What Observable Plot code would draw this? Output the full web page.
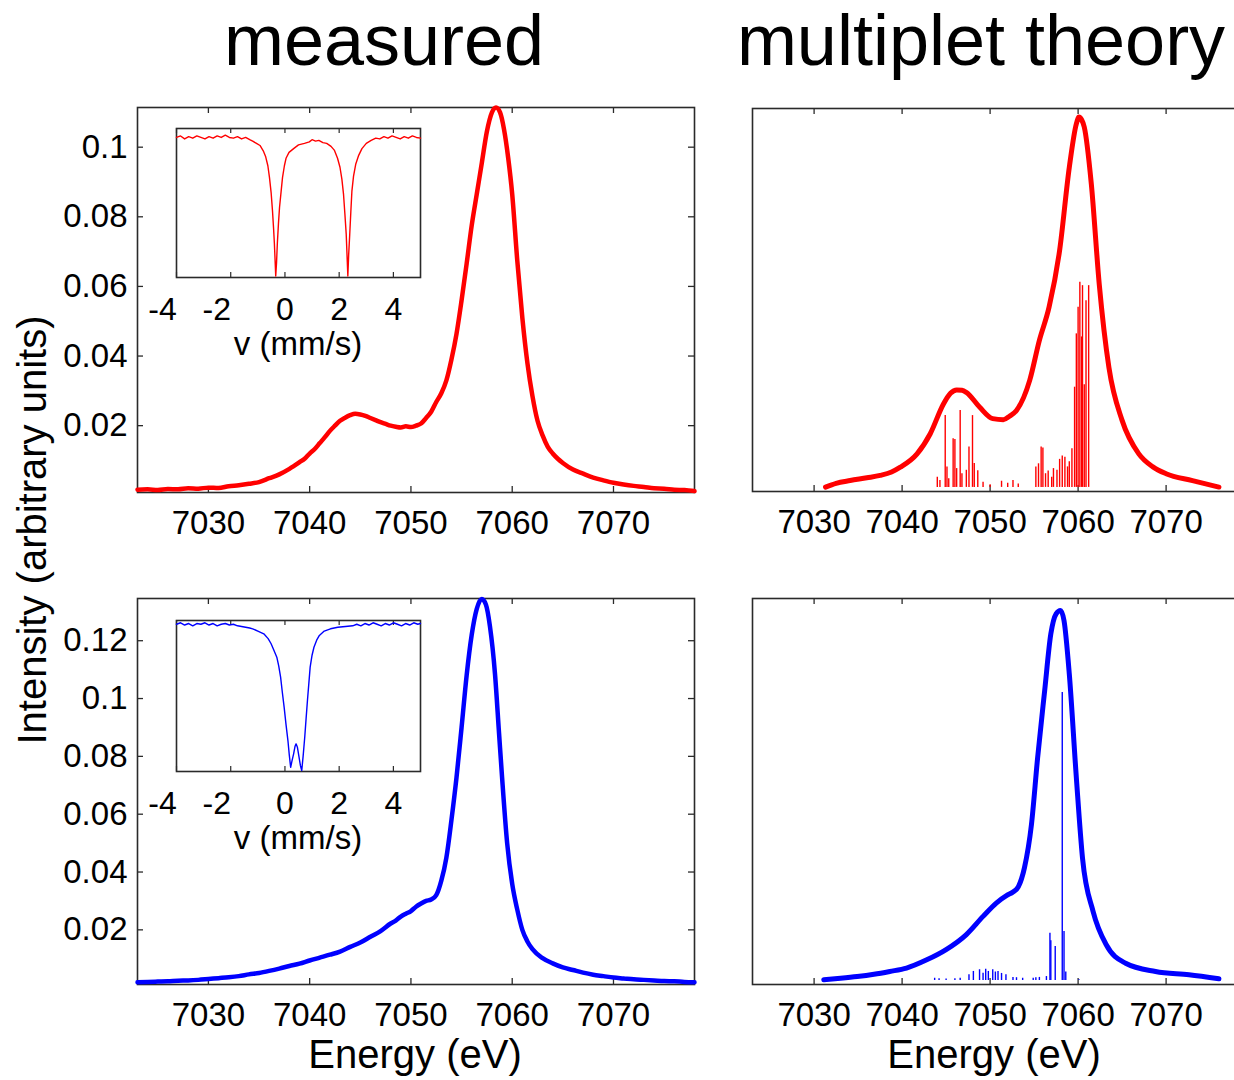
<!DOCTYPE html>
<html><head><meta charset="utf-8">
<script src="https://cdn.jsdelivr.net/npm/d3@7"></script>
<script src="https://cdn.jsdelivr.net/npm/@observablehq/plot@0.6"></script>
<style>
html,body{margin:0;padding:0;background:#fff;}
#root{position:relative;width:1234px;height:1080px;overflow:hidden;background:#fff;font-family:"Liberation Sans",Arial,Helvetica,sans-serif;color:#000;}
.abs{position:absolute;}
.lbl{position:absolute;text-align:center;white-space:nowrap;color:#000;}
</style></head><body><div id="root"></div>
<script>
// ---------------- data ----------------
const energyTicks = [7030, 7040, 7050, 7060, 7070];
const energyDomain = [7023, 7078];
const velocityTicks = [-4, -2, 0, 2, 4];
const velocityDomain = [-4, 5];
const topYTicks = [0.02, 0.04, 0.06, 0.08, 0.1];
const bottomYTicks = [0.02, 0.04, 0.06, 0.08, 0.1, 0.12];
const STICK_BASE = 0;

// measured, top (red)
const measuredTop = [
[7023.0,0.0016],[7024.0,0.0017],[7025.0,0.0015],[7026.0,0.0018],[7027.0,0.0017],[7028.0,0.0020],
[7029.0,0.0019],[7030.0,0.0022],[7031.0,0.0021],[7032.0,0.0026],[7033.0,0.0029],[7034.0,0.0033],
[7035.0,0.0038],[7036.0,0.0049],[7037.0,0.0060],[7038.0,0.0076],[7039.0,0.0095],[7039.5,0.0105],
[7040.0,0.0120],[7040.5,0.0133],[7041.0,0.0150],[7041.5,0.0167],[7042.0,0.0185],[7042.5,0.0200],
[7043.0,0.0214],[7043.5,0.0223],[7044.0,0.0230],[7044.5,0.0234],[7045.0,0.0232],[7045.5,0.0228],
[7046.0,0.0222],[7046.5,0.0216],[7047.0,0.0210],[7047.5,0.0205],[7048.0,0.0200],[7048.5,0.0197],
[7049.0,0.0195],[7049.5,0.0198],[7050.0,0.0196],[7050.5,0.0200],[7051.0,0.0206],[7051.5,0.0222],
[7052.0,0.0240],[7052.5,0.0268],[7053.0,0.0293],[7053.5,0.0330],[7054.0,0.0390],[7054.5,0.0464],
[7055.0,0.0560],[7055.5,0.0665],[7056.0,0.0775],[7056.5,0.0865],[7057.0,0.0955],[7057.5,0.1045],
[7058.0,0.1100],[7058.4,0.1114],[7058.8,0.1100],[7059.2,0.1050],[7059.6,0.0970],[7060.0,0.0865],
[7060.5,0.0674],[7061.0,0.0510],[7061.5,0.0380],[7062.0,0.0285],[7062.5,0.0214],[7063.0,0.0172],
[7063.5,0.0140],[7064.0,0.0120],[7064.5,0.0105],[7065.0,0.0093],[7066.0,0.0074],[7067.0,0.0062],
[7068.0,0.0051],[7069.0,0.0043],[7070.0,0.0036],[7071.0,0.0031],[7072.0,0.0027],[7073.0,0.0024],
[7074.0,0.0020],[7075.0,0.0019],[7076.0,0.0016],[7077.0,0.0015],[7078.0,0.0012]
];

// measured, bottom (blue)
const measuredBottom = [
[7023.0,0.0019],[7024.0,0.0020],[7025.0,0.0021],[7026.0,0.0022],[7027.0,0.0024],[7028.0,0.0025],
[7029.0,0.0027],[7030.0,0.0030],[7031.0,0.0033],[7032.0,0.0036],[7033.0,0.0040],[7034.0,0.0046],
[7035.0,0.0051],[7036.0,0.0058],[7037.0,0.0066],[7038.0,0.0075],[7039.0,0.0083],[7040.0,0.0094],
[7041.0,0.0104],[7042.0,0.0114],[7043.0,0.0125],[7044.0,0.0141],[7045.0,0.0156],[7046.0,0.0176],
[7047.0,0.0196],[7048.0,0.0222],[7048.5,0.0232],[7049.0,0.0246],[7049.5,0.0256],[7050.0,0.0265],
[7050.5,0.0280],[7051.0,0.0291],[7051.5,0.0300],[7052.0,0.0305],[7052.5,0.0320],[7053.0,0.0370],
[7053.5,0.0450],[7054.0,0.0580],[7054.5,0.0727],[7055.0,0.0900],[7055.5,0.1080],[7056.0,0.1220],
[7056.5,0.1310],[7057.0,0.1344],[7057.4,0.1325],[7057.8,0.1250],[7058.3,0.1085],[7058.7,0.0880],
[7059.0,0.0727],[7059.5,0.0500],[7060.0,0.0359],[7060.5,0.0270],[7061.0,0.0200],[7061.5,0.0160],
[7062.0,0.0133],[7063.0,0.0102],[7064.0,0.0084],[7065.0,0.0070],[7066.0,0.0061],[7067.0,0.0052],
[7068.0,0.0045],[7069.0,0.0040],[7070.0,0.0035],[7071.0,0.0032],[7072.0,0.0029],[7073.0,0.0027],
[7074.0,0.0025],[7075.0,0.0023],[7076.0,0.0022],[7077.0,0.0020],[7078.0,0.0019]
];

// multiplet theory, top (red): broadened curve and stick spectrum
const theoryTop = [
[7031.3,0.0001],[7032.5,0.0012],[7034.1,0.0020],[7036.0,0.0028],[7037.5,0.0035],[7038.8,0.0045],
[7039.8,0.0059],[7041.7,0.0098],[7043.2,0.0157],[7044.7,0.0244],[7045.5,0.0275],[7046.2,0.0285],
[7046.8,0.0284],[7047.3,0.0278],[7048.8,0.0235],[7050.3,0.0201],[7051.5,0.0198],[7052.2,0.0208],
[7053.0,0.0225],[7054.5,0.0313],[7055.6,0.0430],[7056.7,0.0527],[7057.9,0.0693],[7059.0,0.0936],
[7059.8,0.1063],[7060.1,0.1083],[7060.4,0.1075],[7060.7,0.1054],[7061.5,0.0888],[7062.4,0.0595],
[7063.5,0.0351],[7065.0,0.0196],[7066.9,0.0098],[7068.5,0.0060],[7070.0,0.0040],[7073.0,0.0020],
[7076.0,0.0001]
];
const sticksTop = [
[7044.0,0.0030],[7044.3,0.0020],[7044.9,0.0210],[7045.1,0.0060],[7045.3,0.0025],[7045.8,0.0142],
[7046.0,0.0140],[7046.2,0.0055],[7046.6,0.0225],[7046.8,0.0040],[7047.3,0.0050],[7047.6,0.0118],
[7048.0,0.0210],[7048.2,0.0070],[7048.6,0.0049],[7049.2,0.0015],[7050.0,0.0008],[7051.3,0.0018],
[7052.0,0.0012],[7052.6,0.0020],[7053.2,0.0010],[7055.2,0.0060],[7055.5,0.0069],[7055.8,0.0118],
[7056.0,0.0115],[7056.3,0.0040],[7056.6,0.0048],[7057.0,0.0030],[7057.2,0.0055],[7057.6,0.0050],
[7057.9,0.0082],[7058.2,0.0092],[7058.5,0.0088],[7058.8,0.0060],[7059.0,0.0075],[7059.3,0.0113],
[7059.6,0.0293],[7059.8,0.0449],[7060.0,0.0527],[7060.2,0.0600],[7060.4,0.0440],[7060.5,0.0590],
[7060.7,0.0300],[7060.9,0.0546],[7061.2,0.0590]
];

// multiplet theory, bottom (blue)
const theoryBottom = [
[7031.1,0.0003],[7033.0,0.0008],[7034.9,0.0014],[7036.8,0.0022],[7038.6,0.0032],[7040.5,0.0044],
[7042.8,0.0073],[7045.0,0.0109],[7047.3,0.0162],[7049.2,0.0226],[7050.7,0.0273],[7051.9,0.0300],
[7052.6,0.0312],[7053.2,0.0330],[7053.9,0.0397],[7054.7,0.0550],[7055.4,0.0785],[7056.2,0.1021],
[7056.9,0.1221],[7057.5,0.1292],[7058.0,0.1304],[7058.4,0.1268],[7059.0,0.1080],[7059.8,0.0715],
[7060.5,0.0432],[7061.7,0.0244],[7063.2,0.0126],[7065.4,0.0061],[7068.8,0.0032],[7072.6,0.0020],
[7076.0,0.0006]
];
const sticksBottom = [
[7043.7,0.0008],[7044.2,0.0006],[7045.0,0.0005],[7046.0,0.0006],[7046.6,0.0008],[7047.6,0.0020],
[7048.1,0.0032],[7048.8,0.0038],[7049.2,0.0026],[7049.5,0.0040],[7049.8,0.0032],[7050.3,0.0038],
[7050.6,0.0030],[7050.9,0.0032],[7051.3,0.0025],[7051.8,0.0020],[7052.6,0.0011],[7053.0,0.0010],
[7053.7,0.0008],[7054.9,0.0008],[7055.2,0.0010],[7055.6,0.0011],[7056.4,0.0014],[7056.8,0.0167],
[7056.9,0.0140],[7057.4,0.0120],[7058.2,0.1015],[7058.4,0.0173],[7058.6,0.0030],[7060.1,0.0003]
];

// Mossbauer insets (v in mm/s, relative transmission)
const mossbauerTop = [
[-4.00,0.940],[-3.85,0.950],[-3.70,0.930],[-3.55,0.945],[-3.40,0.935],[-3.25,0.950],[-3.10,0.940],
[-2.95,0.930],[-2.80,0.945],[-2.65,0.935],[-2.50,0.950],[-2.35,0.940],[-2.20,0.955],[-2.05,0.940],
[-1.90,0.935],[-1.75,0.945],[-1.60,0.930],[-1.45,0.940],[-1.30,0.925],[-1.19,0.915],[-1.05,0.900],
[-0.92,0.886],[-0.80,0.850],[-0.71,0.810],[-0.63,0.750],[-0.57,0.670],[-0.51,0.570],[-0.46,0.450],
[-0.42,0.330],[-0.39,0.230],[-0.36,0.100],[-0.34,0.010],[-0.31,0.100],[-0.28,0.230],[-0.24,0.360],
[-0.20,0.470],[-0.14,0.580],[-0.09,0.670],[-0.02,0.750],[0.04,0.800],[0.15,0.840],[0.32,0.865],
[0.50,0.890],[0.72,0.900],[0.90,0.910],[1.00,0.925],[1.13,0.915],[1.25,0.920],[1.40,0.905],
[1.54,0.900],[1.70,0.880],[1.82,0.855],[1.94,0.800],[2.03,0.740],[2.10,0.660],[2.16,0.560],
[2.21,0.430],[2.26,0.290],[2.29,0.150],[2.32,0.010],[2.35,0.150],[2.39,0.290],[2.43,0.440],
[2.47,0.580],[2.53,0.680],[2.61,0.760],[2.72,0.820],[2.84,0.865],[3.00,0.900],[3.18,0.920],
[3.35,0.935],[3.50,0.930],[3.65,0.945],[3.80,0.935],[3.95,0.950],[4.10,0.940],[4.25,0.930],
[4.40,0.945],[4.55,0.935],[4.70,0.950],[4.85,0.940],[5.00,0.935]
];
const mossbauerBottom = [
[-4.00,0.975],[-3.85,0.985],[-3.70,0.970],[-3.55,0.980],[-3.40,0.965],[-3.25,0.980],[-3.10,0.975],
[-2.95,0.985],[-2.80,0.970],[-2.65,0.980],[-2.50,0.965],[-2.35,0.975],[-2.20,0.980],[-2.05,0.970],
[-1.90,0.975],[-1.75,0.965],[-1.60,0.960],[-1.45,0.955],[-1.30,0.950],[-1.19,0.945],[-1.00,0.930],
[-0.78,0.912],[-0.62,0.880],[-0.51,0.846],[-0.40,0.800],[-0.30,0.757],[-0.23,0.700],[-0.16,0.625],
[-0.10,0.530],[-0.03,0.426],[0.04,0.310],[0.11,0.205],[0.16,0.110],[0.21,0.028],[0.26,0.070],
[0.32,0.117],[0.37,0.165],[0.41,0.183],[0.46,0.160],[0.52,0.095],[0.57,0.040],[0.62,0.007],
[0.67,0.100],[0.73,0.227],[0.78,0.350],[0.83,0.470],[0.88,0.580],[0.93,0.691],[1.00,0.770],
[1.07,0.823],[1.17,0.870],[1.27,0.901],[1.45,0.930],[1.68,0.945],[1.95,0.955],[2.23,0.960],
[2.50,0.965],[2.65,0.975],[2.80,0.965],[2.95,0.980],[3.10,0.970],[3.25,0.985],[3.40,0.975],
[3.55,0.965],[3.70,0.980],[3.85,0.970],[4.00,0.985],[4.15,0.975],[4.30,0.965],[4.45,0.980],
[4.60,0.970],[4.75,0.985],[4.90,0.975],[5.00,0.980]
];

// ---------------- drawing ----------------
const root = document.getElementById("root");
const FONT = '"Liberation Sans", Arial, Helvetica, sans-serif';
const FRAME = "#2a2a2a";
const RED = "#ff0000", BLUE = "#0000ff";
const fmt = d => String(d);

function place(node, left, top) {
  const d = document.createElement("div");
  d.className = "abs";
  d.style.left = left + "px";
  d.style.top = top + "px";
  d.appendChild(node);
  root.appendChild(d);
}
function baseStyle() {
  return {fontFamily: FONT, color: "#000", background: "transparent", overflow: "visible", maxWidth: "none"};
}

function panel(o) {
  const ml = o.yTicks ? 137 : 20, mr = 20, mt = 15, mb = 70, T = 6;
  const w = o.x1 - o.x0, h = o.y1 - o.y0;
  const marks = [
    Plot.tickX(energyTicks, {x: d => d, insetTop: h - T, stroke: FRAME, strokeWidth: 1.3}),
    Plot.tickX(energyTicks, {x: d => d, insetBottom: h - T, stroke: FRAME, strokeWidth: 1.3}),
    Plot.axisX(energyTicks, {anchor: "bottom", tickSize: 0, tickPadding: 18, tickFormat: fmt, fontSize: 33})
  ];
  if (o.yTicks) {
    marks.push(
      Plot.tickY(o.yTicks, {y: d => d, insetRight: w - T, stroke: FRAME, strokeWidth: 1.3}),
      Plot.tickY(o.yTicks, {y: d => d, insetLeft: w - T, stroke: FRAME, strokeWidth: 1.3}),
      Plot.axisY(o.yTicks, {anchor: "left", tickSize: 0, tickPadding: 10, tickFormat: fmt, fontSize: 33})
    );
  }
  if (o.sticks) {
    marks.push(Plot.ruleX(o.sticks, {x: d => d[0], y1: STICK_BASE, y2: d => d[1], stroke: o.color, strokeWidth: 1.4}));
  }
  marks.push(Plot.frame({stroke: FRAME, strokeWidth: 1.6}));
  marks.push(Plot.line(o.data, {x: d => d[0], y: d => d[1], stroke: o.color, strokeWidth: o.lw,
    curve: "monotone-x", strokeLinejoin: "round", strokeLinecap: "round"}));
  const p = Plot.plot({
    width: w + ml + mr, height: h + mt + mb,
    marginLeft: ml, marginRight: mr, marginTop: mt, marginBottom: mb,
    x: {domain: energyDomain, axis: null},
    y: {domain: o.yDomain, axis: null},
    style: baseStyle(),
    marks
  });
  place(p, o.x0 - ml, o.y0 - mt);
}

function inset(o) {
  const ml = 45, mr = 10, mt = 10, mb = 60, T = 5;
  const w = o.x1 - o.x0, h = o.y1 - o.y0;
  const neg = velocityTicks.filter(d => d < 0), nonneg = velocityTicks.filter(d => d >= 0);
  const p = Plot.plot({
    width: w + ml + mr, height: h + mt + mb,
    marginLeft: ml, marginRight: mr, marginTop: mt, marginBottom: mb,
    x: {domain: velocityDomain, axis: null},
    y: {domain: [0, 1], axis: null},
    style: baseStyle(),
    marks: [
      Plot.frame({fill: "white", stroke: FRAME, strokeWidth: 1.6}),
      Plot.tickX(velocityTicks, {x: d => d, insetTop: h - T, stroke: FRAME, strokeWidth: 1.2}),
      Plot.tickX(velocityTicks, {x: d => d, insetBottom: h - T, stroke: FRAME, strokeWidth: 1.2}),
      Plot.axisX(neg, {anchor: "bottom", tickSize: 0, tickPadding: 20, tickFormat: fmt, fontSize: 32, dx: -14}),
      Plot.axisX(nonneg, {anchor: "bottom", tickSize: 0, tickPadding: 20, tickFormat: fmt, fontSize: 32}),
      Plot.line(o.data, {x: d => d[0], y: d => d[1], stroke: o.color, strokeWidth: 1.4, strokeLinejoin: "round"})
    ]
  });
  place(p, o.x0 - ml, o.y0 - mt);
}

function label(text, cx, baseline, size, rotate) {
  const d = document.createElement("div");
  d.className = "lbl";
  d.textContent = text;
  d.style.fontSize = size + "px";
  d.style.lineHeight = size + "px";
  d.style.height = size + "px";
  d.style.width = "800px";
  d.style.left = (cx - 400) + "px";
  d.style.top = (baseline - 0.8465 * size) + "px";
  if (rotate) {
    d.style.top = (baseline - size / 2) + "px";
    d.style.transform = "rotate(-90deg)";
  }
  root.appendChild(d);
}

panel({data: measuredTop, color: RED, lw: 4.5, x0: 137, x1: 694, y0: 107, y1: 492,
       yDomain: [0.0008, 0.1114], yTicks: topYTicks});
panel({data: measuredBottom, color: BLUE, lw: 4.5, x0: 137, x1: 694, y0: 598, y1: 984,
       yDomain: [0.0011, 0.1346], yTicks: bottomYTicks});
panel({data: theoryTop, sticks: sticksTop, color: RED, lw: 5, x0: 752, x1: 1236, y0: 108, y1: 491,
       yDomain: [-0.0012, 0.1108]});
panel({data: theoryBottom, sticks: sticksBottom, color: BLUE, lw: 5, x0: 752, x1: 1236, y0: 598, y1: 984,
       yDomain: [-0.0014, 0.1346]});

inset({data: mossbauerTop, color: RED, x0: 176, x1: 420, y0: 128, y1: 277});
inset({data: mossbauerBottom, color: BLUE, x0: 176, x1: 420, y0: 620, y1: 771});

label("measured", 384, 65, 72);
label("multiplet theory", 981, 65, 72);
label("v (mm/s)", 298, 355, 33);
label("v (mm/s)", 298, 849, 33);
label("Energy (eV)", 415, 1068, 40);
label("Energy (eV)", 994, 1068, 40);
label("Intensity (arbitrary units)", 32, 530, 40, true);
</script></body></html>
